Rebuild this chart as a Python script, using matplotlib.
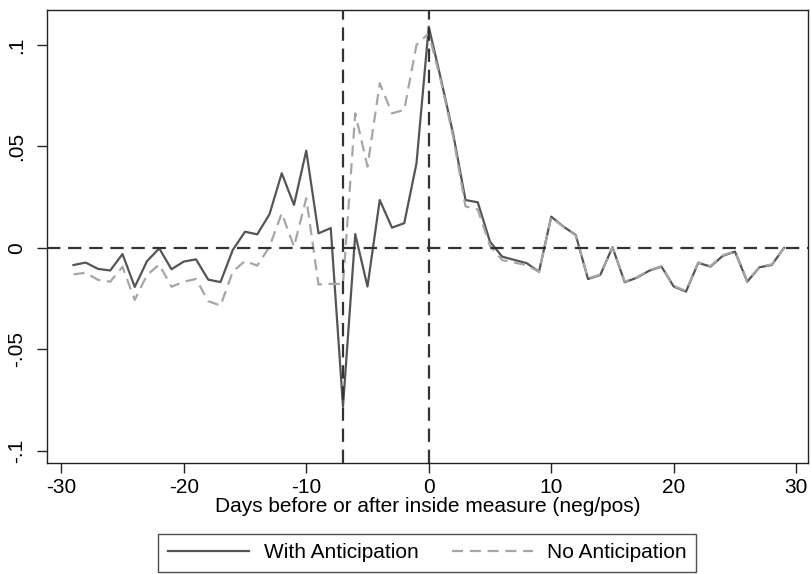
import numpy as np
import matplotlib
matplotlib.use("Agg")
import matplotlib.pyplot as plt

plt.rcParams['font.family'] = ['Liberation Sans', 'DejaVu Sans']
plt.rcParams['axes.unicode_minus'] = False

# days relative to the inside measure
days = np.arange(-29, 30)

with_anticipation = [
    -0.0084, -0.0072, -0.0103, -0.0111, -0.0030, -0.0192, -0.0065, -0.0002,
    -0.0105, -0.0067, -0.0056, -0.0156, -0.0168, -0.0010, 0.0080, 0.0067,
    0.0166, 0.0368, 0.0212, 0.0479, 0.0072, 0.0098, -0.0780, 0.0068,
    -0.0190, 0.0236, 0.0100, 0.0122, 0.0417, 0.1090, 0.0830, 0.0560,
    0.0236, 0.0225, 0.0031, -0.0043, -0.0059, -0.0075, -0.0117, 0.0154,
    0.0105, 0.0064, -0.0153, -0.0133, 0.0004, -0.0169, -0.0146, -0.0112,
    -0.0092, -0.0190, -0.0215, -0.0073, -0.0092, -0.0039, -0.0018, -0.0166,
    -0.0095, -0.0084, 0.0000,
]

no_anticipation = [
    -0.0130, -0.0122, -0.0157, -0.0166, -0.0093, -0.0256, -0.0133, -0.0082,
    -0.0191, -0.0166, -0.0153, -0.0262, -0.0284, -0.0117, -0.0064, -0.0087,
    0.0006, 0.0171, 0.0006, 0.0245, -0.0180, -0.0177, -0.0177, 0.0663,
    0.0401, 0.0811, 0.0663, 0.0680, 0.1000, 0.1057, 0.0820, 0.0545,
    0.0205, 0.0190, 0.0010, -0.0060, -0.0072, -0.0085, -0.0117, 0.0152,
    0.0103, 0.0062, -0.0150, -0.0131, 0.0004, -0.0166, -0.0144, -0.0110,
    -0.0090, -0.0187, -0.0212, -0.0071, -0.0089, -0.0036, -0.0016, -0.0163,
    -0.0093, -0.0081, 0.0000,
]

x_ticks = [-30, -20, -10, 0, 10, 20, 30]
y_ticks = [-0.1, -0.05, 0, 0.05, 0.1]
y_tick_labels = ['-.1', '-.05', '0', '.05', '.1']
ref_days = [-7, 0]

fig = plt.figure(figsize=(8.11, 5.74), dpi=100)
ax = fig.add_axes([0.058, 0.1934, 0.938, 0.7892])

ax.plot(days, with_anticipation, color='#555555', lw=1.6, label='With Anticipation', zorder=2)
ax.plot(days, no_anticipation, color='#a6a6a6', lw=1.6, ls=(0, (5, 3)),
        label='No Anticipation', zorder=2.5)

# reference lines
ax.axhline(0, color='#333333', lw=1.6, ls=(0, (6, 3.5)), zorder=3)
for d in ref_days:
    ax.axvline(d, color='#333333', lw=1.6, ls=(0, (6, 3.5)), zorder=3)

ax.set_xlim(-31.16, 30.94)
ax.set_ylim(-0.1059, 0.1172)
ax.set_xticks(x_ticks)
ax.set_yticks(y_ticks)
ax.set_yticklabels(y_tick_labels, rotation=90, va='center')
ax.tick_params(axis='both', labelsize=15, length=7, width=1, color='#222222')
ax.tick_params(axis='y', pad=8)
ax.tick_params(axis='x', pad=4)
for s in ax.spines.values():
    s.set_color('#222222')
    s.set_linewidth(1)

ax.set_xlabel('Days before or after inside measure (neg/pos)', fontsize=15, labelpad=0)

leg = fig.legend(loc='center', bbox_to_anchor=(0.527, 0.0366), ncol=2, fontsize=15,
                 frameon=True, fancybox=False, handlelength=3.9, handletextpad=0.7,
                 columnspacing=1.6, borderpad=0.45)
leg.get_frame().set_edgecolor('#222222')
leg.get_frame().set_linewidth(1)

fig.savefig('out.png', dpi=100)
